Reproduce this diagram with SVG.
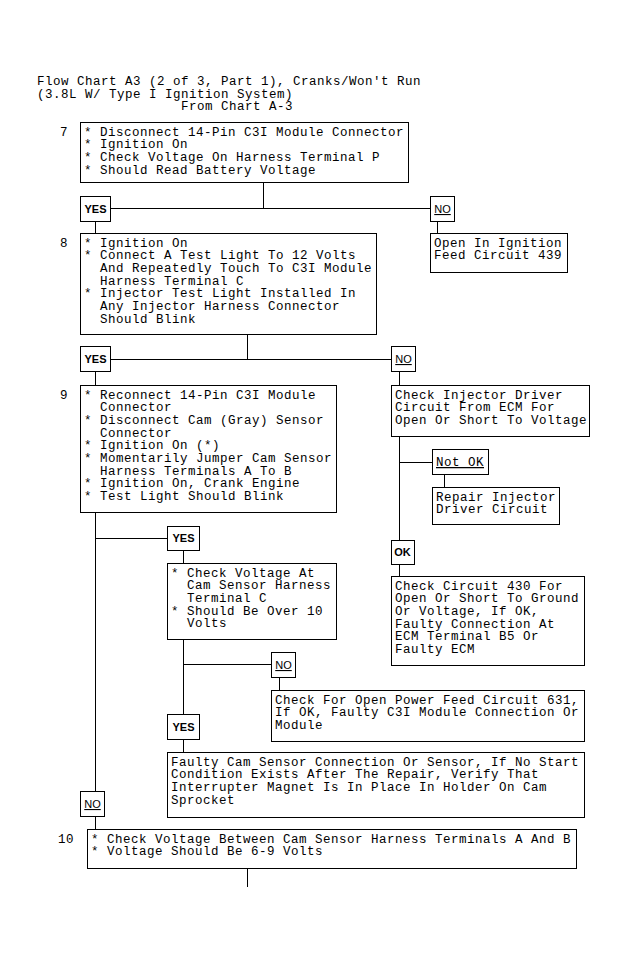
<svg xmlns="http://www.w3.org/2000/svg" width="630" height="963" viewBox="0 0 630 963">
<style>
.bx{fill:none;stroke:#000;stroke-width:1}
.ln{fill:none;stroke:#000;stroke-width:1}
text{font-family:"Liberation Mono","DejaVu Sans Mono",monospace;font-size:12.5px;letter-spacing:0.5px;fill:#000}
.n{text-anchor:middle}
.y{font-family:"Liberation Sans","DejaVu Sans",sans-serif;font-size:11px;letter-spacing:0;font-weight:bold;text-anchor:middle}
.no{font-family:"Liberation Sans","DejaVu Sans",sans-serif;font-size:11px;letter-spacing:0;text-anchor:middle;text-decoration:underline}
.u{text-decoration:underline}
</style>
<rect width="630" height="963" fill="#fff"/>
<g id="title">
<text x="37" y="85">Flow Chart A3 (2 of 3, Part 1), Cranks/Won't Run</text>
<text x="37" y="97.7">(3.8L W/ Type I Ignition System)</text>
<text x="181" y="110.4">From Chart A-3</text>
</g>
<g id="connectors">
<path class="ln" d="M263.5 182V208.5M110 208.5H430M95.5 221V233M437.5 221V233M247.5 334V359.5M110 359.5H391M95.5 371V385M399.5 371V385M399.5 436V540M399.5 462.5H432M444.5 474V487M399.5 564V576M95.5 512V791M95.5 538.5H167M183.5 550V563M183.5 639V714M183.5 664.5H271M279.5 677V690M183.5 739V752M95.5 816V829M247.5 868V887"/>
</g>
<g id="step7">
<text class="n" x="64" y="135.5">7</text>
<rect class="bx" x="80.5" y="122.5" width="328" height="60"/>
<text x="84" y="135.5">* Disconnect 14-Pin C3I Module Connector</text>
<text x="84" y="148.2">* Ignition On</text>
<text x="84" y="160.9">* Check Voltage On Harness Terminal P</text>
<text x="84" y="173.6">* Should Read Battery Voltage</text>
</g>
<g id="yes1"><rect class="bx" x="80.5" y="196.5" width="30" height="25"/><text class="y" x="95.5" y="213">YES</text></g>
<g id="no1"><rect class="bx" x="430.5" y="196.5" width="24" height="25"/><text class="no" x="442.5" y="213">NO</text></g>
<g id="step8">
<text class="n" x="64" y="246.5">8</text>
<rect class="bx" x="80.5" y="233.5" width="296" height="101"/>
<text x="84" y="246.5">* Ignition On</text>
<text x="84" y="259.2">* Connect A Test Light To 12 Volts</text>
<text x="100" y="271.9">And Repeatedly Touch To C3I Module</text>
<text x="100" y="284.6">Harness Terminal C</text>
<text x="84" y="297.3">* Injector Test Light Installed In</text>
<text x="100" y="310">Any Injector Harness Connector</text>
<text x="100" y="322.7">Should Blink</text>
</g>
<g id="open439">
<rect class="bx" x="430.5" y="233.5" width="137" height="39"/>
<text x="434" y="246.5">Open In Ignition</text>
<text x="434" y="259.2">Feed Circuit 439</text>
</g>
<g id="yes2"><rect class="bx" x="80.5" y="346.5" width="30" height="25"/><text class="y" x="95.5" y="363">YES</text></g>
<g id="no2"><rect class="bx" x="391.5" y="346.5" width="24" height="25"/><text class="no" x="403.5" y="363">NO</text></g>
<g id="step9">
<text class="n" x="64" y="398.5">9</text>
<rect class="bx" x="80.5" y="385.5" width="256" height="127"/>
<text x="84" y="398.5">* Reconnect 14-Pin C3I Module</text>
<text x="100" y="411.2">Connector</text>
<text x="84" y="423.9">* Disconnect Cam (Gray) Sensor</text>
<text x="100" y="436.6">Connector</text>
<text x="84" y="449.3">* Ignition On (*)</text>
<text x="84" y="462">* Momentarily Jumper Cam Sensor</text>
<text x="100" y="474.7">Harness Terminals A To B</text>
<text x="84" y="487.4">* Ignition On, Crank Engine</text>
<text x="84" y="500.1">* Test Light Should Blink</text>
</g>
<g id="checkInjector">
<rect class="bx" x="391.5" y="385.5" width="198" height="51"/>
<text x="395" y="398.5">Check Injector Driver</text>
<text x="395" y="411.2">Circuit From ECM For</text>
<text x="395" y="423.9">Open Or Short To Voltage</text>
</g>
<g id="notok"><rect class="bx" x="432.5" y="449.5" width="56" height="25"/><text class="u" x="436" y="466">Not OK</text></g>
<g id="repair">
<rect class="bx" x="432.5" y="487.5" width="127" height="37"/>
<text x="436" y="500.5">Repair Injector</text>
<text x="436" y="513.2">Driver Circuit</text>
</g>
<g id="ok"><rect class="bx" x="391.5" y="540.5" width="23" height="24"/><text class="y" x="402.5" y="556">OK</text></g>
<g id="checkCircuit430">
<rect class="bx" x="391.5" y="576.5" width="193" height="89"/>
<text x="395" y="589.5">Check Circuit 430 For</text>
<text x="395" y="602.2">Open Or Short To Ground</text>
<text x="395" y="614.9">Or Voltage, If OK,</text>
<text x="395" y="627.6">Faulty Connection At</text>
<text x="395" y="640.3">ECM Terminal B5 Or</text>
<text x="395" y="653">Faulty ECM</text>
</g>
<g id="yes3"><rect class="bx" x="167.5" y="526.5" width="32" height="24"/><text class="y" x="183.5" y="542">YES</text></g>
<g id="checkVoltage">
<rect class="bx" x="167.5" y="563.5" width="169" height="76"/>
<text x="171" y="576.5">* Check Voltage At</text>
<text x="187" y="589.2">Cam Sensor Harness</text>
<text x="187" y="601.9">Terminal C</text>
<text x="171" y="614.6">* Should Be Over 10</text>
<text x="187" y="627.3">Volts</text>
</g>
<g id="no3"><rect class="bx" x="271.5" y="652.5" width="24" height="25"/><text class="no" x="283.5" y="669">NO</text></g>
<g id="checkOpen631">
<rect class="bx" x="271.5" y="690.5" width="313" height="51"/>
<text x="275" y="703.5">Check For Open Power Feed Circuit 631,</text>
<text x="275" y="716.2">If OK, Faulty C3I Module Connection Or</text>
<text x="275" y="728.9">Module</text>
</g>
<g id="yes4"><rect class="bx" x="167.5" y="714.5" width="32" height="25"/><text class="y" x="183.5" y="731">YES</text></g>
<g id="faultyCam">
<rect class="bx" x="167.5" y="752.5" width="417" height="65"/>
<text x="171" y="765.5">Faulty Cam Sensor Connection Or Sensor, If No Start</text>
<text x="171" y="778.2">Condition Exists After The Repair, Verify That</text>
<text x="171" y="790.9">Interrupter Magnet Is In Place In Holder On Cam</text>
<text x="171" y="803.6">Sprocket</text>
</g>
<g id="no4"><rect class="bx" x="80.5" y="791.5" width="24" height="25"/><text class="no" x="92.5" y="808">NO</text></g>
<g id="step10">
<text class="n" x="66" y="842.5">10</text>
<rect class="bx" x="87.5" y="829.5" width="489" height="39"/>
<text x="91" y="842.5">* Check Voltage Between Cam Sensor Harness Terminals A And B</text>
<text x="91" y="855.2">* Voltage Should Be 6-9 Volts</text>
</g>
</svg>
